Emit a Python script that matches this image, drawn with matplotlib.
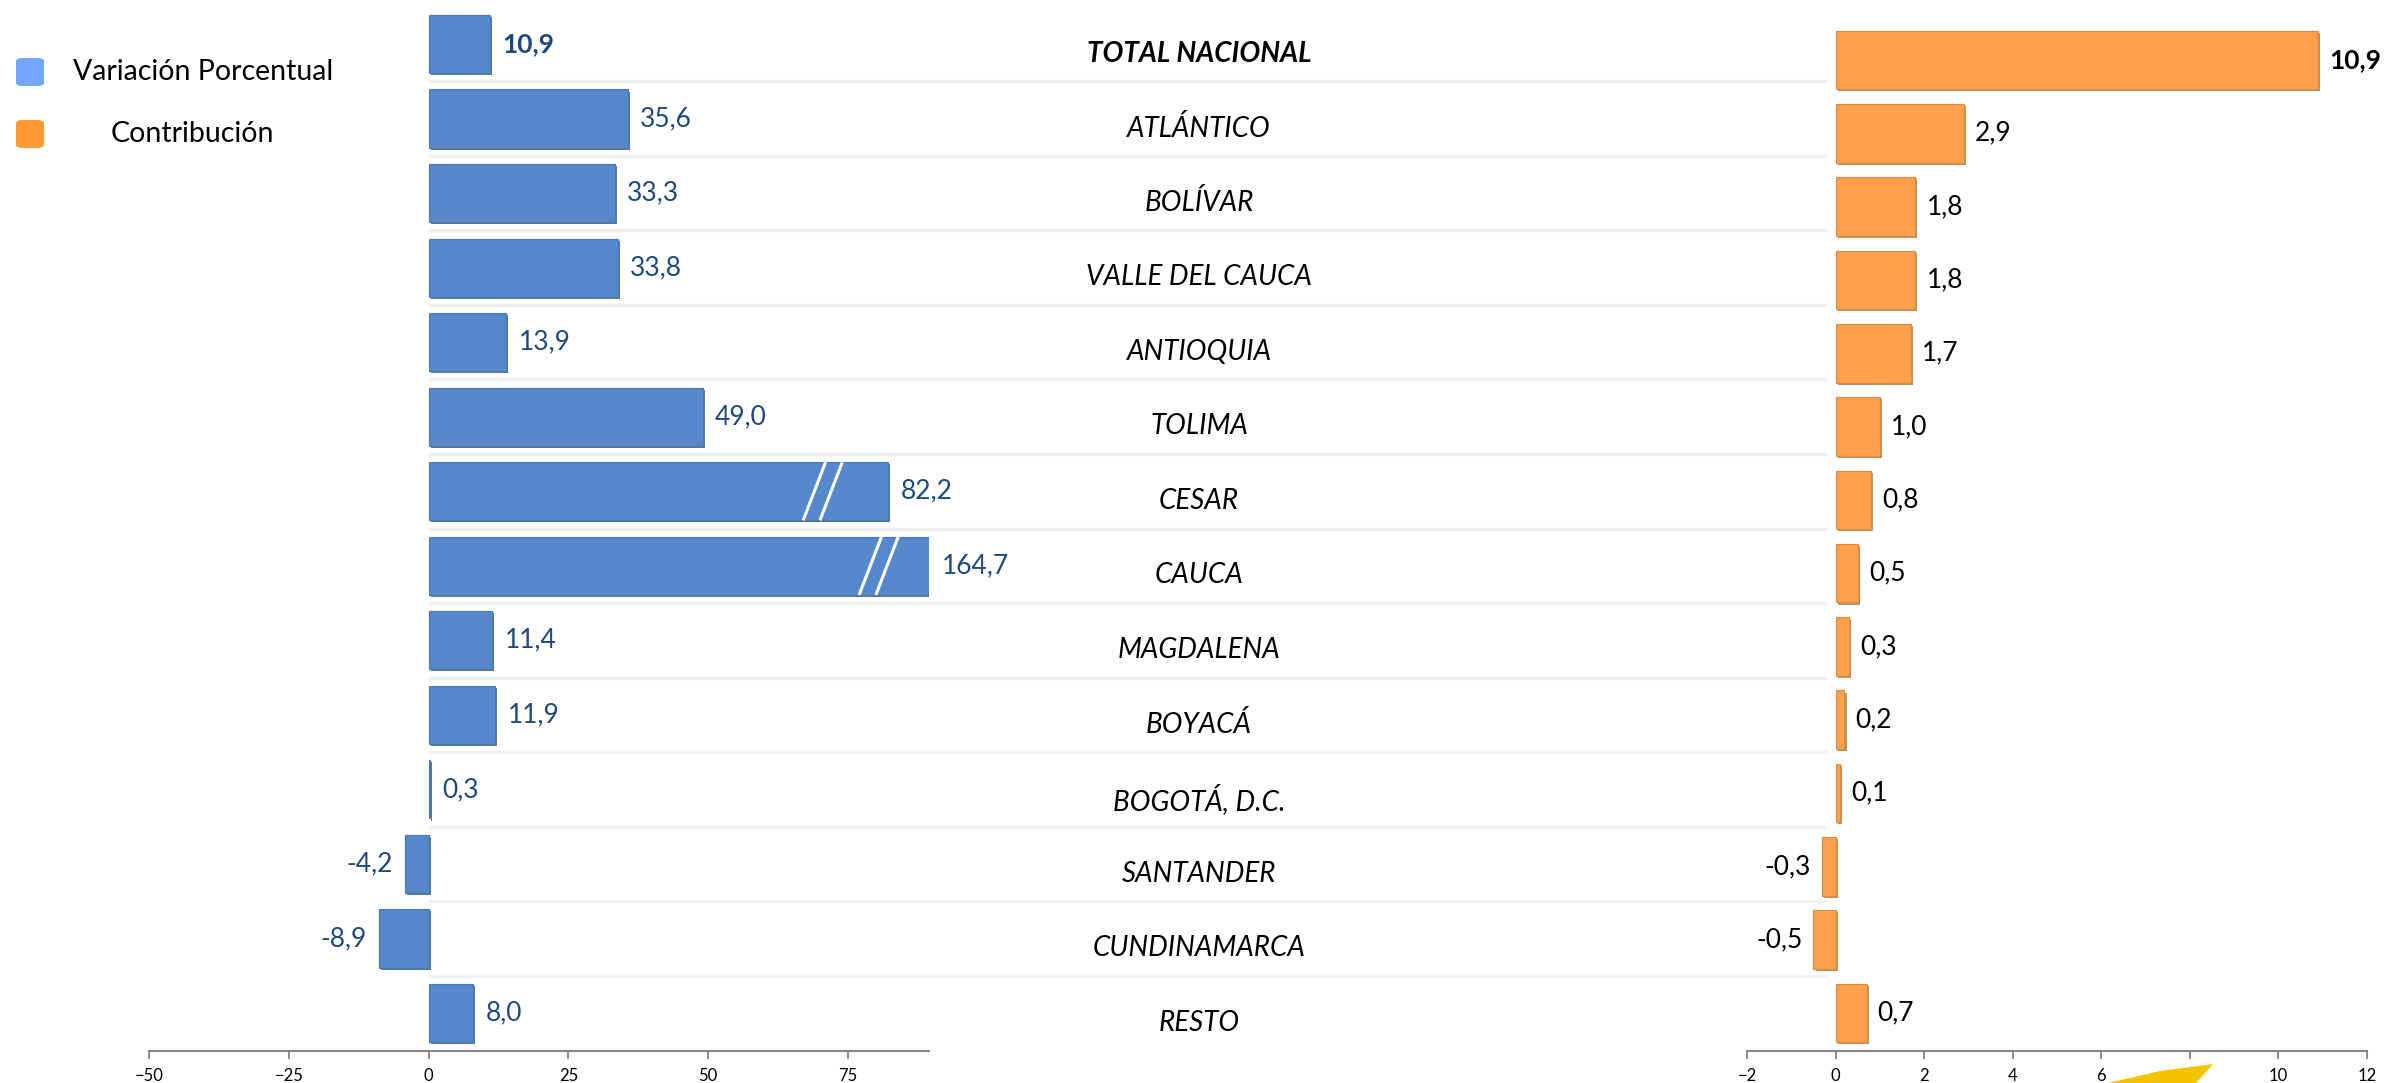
import matplotlib
matplotlib.use('Agg')
import matplotlib.pyplot as plt
import matplotlib.patheffects as pe
from matplotlib.patches import Polygon, FancyBboxPatch
from matplotlib.lines import Line2D
from matplotlib.transforms import blended_transform_factory

plt.rcParams['font.family'] = ['Lato', 'DejaVu Sans']

categorias = ['TOTAL NACIONAL', 'ATLÁNTICO', 'BOLÍVAR', 'VALLE DEL CAUCA', 'ANTIOQUIA',
              'TOLIMA', 'CESAR', 'CAUCA', 'MAGDALENA', 'BOYACÁ', 'BOGOTÁ, D.C.',
              'SANTANDER', 'CUNDINAMARCA', 'RESTO']
variacion = [10.9, 35.6, 33.3, 33.8, 13.9, 49.0, 82.2, 164.7, 11.4, 11.9, 0.3, -4.2, -8.9, 8.0]
contribucion = [10.9, 2.9, 1.8, 1.8, 1.7, 1.0, 0.8, 0.5, 0.3, 0.2, 0.1, -0.3, -0.5, 0.7]
ticks_var = [-50, -25, 0, 25, 50, 75]
ticks_con = [-2, 0, 2, 4, 6, 8, 10, 12]
# bars drawn with a "//" break mark
cortes = {'CESAR': 69, 'CAUCA': 79}

W, H = 2397, 1083
fig = plt.figure(figsize=(W / 100, H / 100), dpi=100)
n = len(categorias)


def make_axes(x0, x1, y_first, y_last, y_axis):
    s = (y_last - y_first) / (n - 1)
    top = y_first - 0.5 * s
    ax = fig.add_axes([x0 / W, (H - y_axis) / H, (x1 - x0) / W, (y_axis - top) / H])
    ax.set_ylim(n - 1 + (y_axis - y_last) / s, -0.5)
    for sp in ['top', 'left', 'right']:
        ax.spines[sp].set_visible(False)
    ax.spines['bottom'].set_color('#868686')
    ax.spines['bottom'].set_linewidth(1.5)
    ax.set_yticks([])
    ax.tick_params(axis='x', length=6, width=1.3, color='#868686', labelsize=12, pad=6)
    ax.patch.set_alpha(0)
    return ax


ax1 = make_axes(149, 929, 44, 1013, 1051)
ax1.set_xlim(-50, 89.5)
ax1.set_xticks(ticks_var)

ax2 = make_axes(1747, 2367, 60, 1013, 1051)
ax2.set_xlim(-2, 12)
ax2.set_xticks(ticks_con)

ypos = list(range(n))

# light separators between rows
tr = blended_transform_factory(fig.transFigure, ax1.transData)
for i in range(n - 1):
    fig.add_artist(Line2D([430 / W, 1825 / W], [i + 0.5, i + 0.5], transform=tr,
                          color='#f0f0f0', lw=2.5, zorder=0))

sombra_azul = [pe.SimplePatchShadow(offset=(1.5, -1.5), shadow_rgbFace='#1f3a60', alpha=0.7), pe.Normal()]
sombra_nar = [pe.SimplePatchShadow(offset=(1.5, -1.5), shadow_rgbFace='#8a4c16', alpha=0.6), pe.Normal()]

b1 = ax1.barh(ypos, variacion, height=0.78, color='#5689CB', edgecolor='#4a78b4', linewidth=0.8, zorder=3)
b2 = ax2.barh(ypos, contribucion, height=0.8, color='#FFA04C', edgecolor='#e08a3c', linewidth=0.8, zorder=3)
for r in b1:
    r.set_path_effects(sombra_azul)
for r in b2:
    r.set_path_effects(sombra_nar)

xmax1 = ax1.get_xlim()[1]
for i, v in enumerate(variacion):
    txt = f'{v:.1f}'.replace('.', ',')
    x = min(v, xmax1)
    ax1.annotate(txt, (x, i), xytext=(9 if v >= 0 else -9, 0), textcoords='offset points',
                 ha='left' if v >= 0 else 'right', va='center', fontsize=19, color='#1F497D',
                 fontweight='bold' if i == 0 else 'normal', annotation_clip=False)

for i, v in enumerate(contribucion):
    txt = f'{v:.1f}'.replace('.', ',')
    ax2.annotate(txt, (v, i), xytext=(8 if v >= 0 else -8, 0), textcoords='offset points',
                 ha='left' if v >= 0 else 'right', va='center', fontsize=19, color='black',
                 fontweight='bold' if i == 0 else 'normal', annotation_clip=False)

# category names in the middle column
for i, c in enumerate(categorias):
    ax1.text(1199 / W, i + 0.13, c, transform=tr, ha='center', va='center', fontsize=20,
             style='italic', fontweight='bold' if i == 0 else 'normal')

# break marks
for c, xb in cortes.items():
    i = categorias.index(c)
    for dx in (0, 3):
        ax1.plot([xb + dx + 2, xb + dx - 2], [i - 0.39, i + 0.39], color='white', lw=2.2,
                 zorder=4, solid_capstyle='butt')

# legend
for (y, col, lab, tx) in [(58, '#74A6FF', 'Variación Porcentual', 73),
                          (120, '#FF9A36', 'Contribución', 111)]:
    fig.add_artist(FancyBboxPatch((16 / W, (H - y - 28) / H), 28 / W, 28 / H,
                                  boxstyle='round,pad=0,rounding_size=0.003',
                                  transform=fig.transFigure, facecolor=col, edgecolor='none'))
    fig.text(tx / W, (H - y - 14) / H, lab, ha='left', va='center', fontsize=20.5)

# yellow decoration at the bottom
fig.add_artist(Polygon([(2108 / W, 0), (2160 / W, 12 / H), (2213 / W, 19 / H), (2196 / W, 0)],
                       closed=True, transform=fig.transFigure, facecolor='#F2C500',
                       edgecolor='none', zorder=5))

fig.savefig('out.png', dpi=100)
